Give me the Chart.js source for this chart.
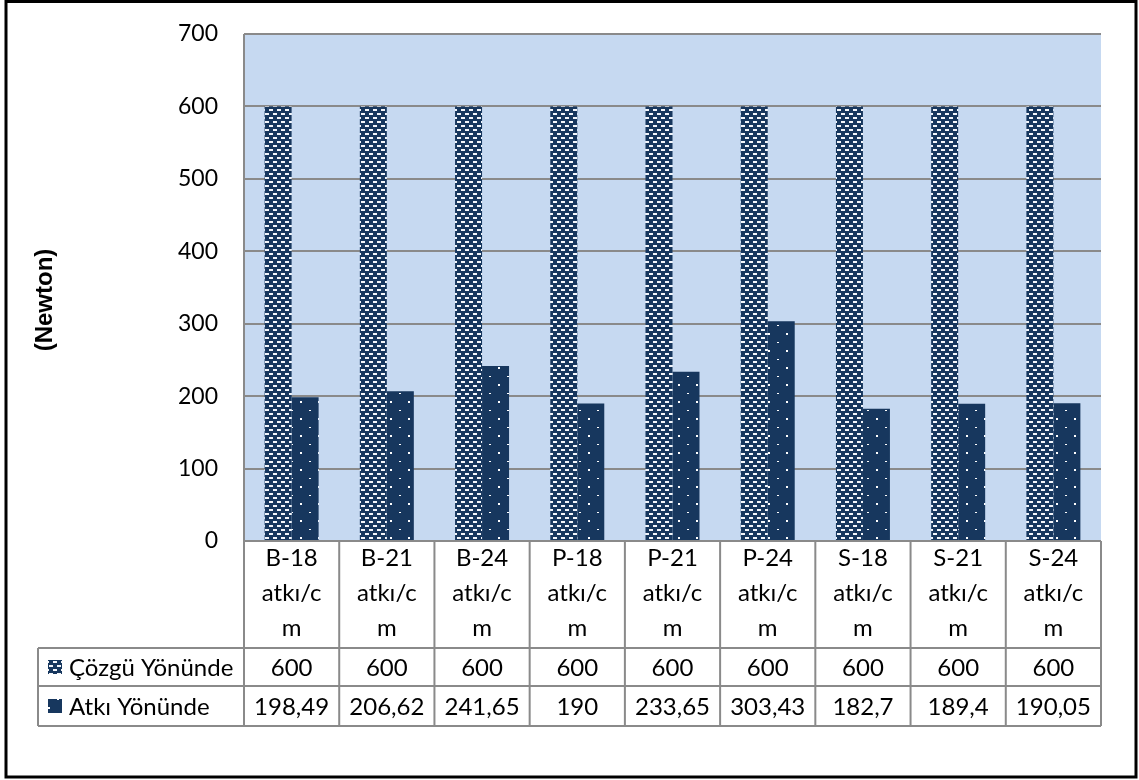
<!DOCTYPE html>
<html>
<head>
<meta charset="utf-8">
<script src="https://cdn.jsdelivr.net/npm/chart.js@4/dist/chart.umd.min.js"></script>
<style>
    html, body { margin: 0; padding: 0; background: #fff; }
    #wrap { width: 1139px; height: 780px; }
</style>
</head>
<body>
<div id="wrap"><canvas id="chart" width="1139" height="780"></canvas></div>
<script>
// データ
const categories = [
    ['B-18', 'atkı/c', 'm'],
    ['B-21', 'atkı/c', 'm'],
    ['B-24', 'atkı/c', 'm'],
    ['P-18', 'atkı/c', 'm'],
    ['P-21', 'atkı/c', 'm'],
    ['P-24', 'atkı/c', 'm'],
    ['S-18', 'atkı/c', 'm'],
    ['S-21', 'atkı/c', 'm'],
    ['S-24', 'atkı/c', 'm'],
];
const seriesNames = ['Çözgü Yönünde', 'Atkı Yönünde'];
const cozgu = [600, 600, 600, 600, 600, 600, 600, 600, 600];
const atki = [198.49, 206.62, 241.65, 190, 233.65, 303.43, 182.7, 189.4, 190.05];
const yTicks = [0, 100, 200, 300, 400, 500, 600, 700];
const yTitle = '(Newton)';

// カラー・パターン
const navy = '#17375E';
const gridColor = '#8A8A8A';
const plotBg = '#C6D9F1';
const txtFont = 'Lato, "Open Sans", sans-serif';

function brickPattern() {
    const c = document.createElement('canvas');
    c.width = 8; c.height = 8;
    const g = c.getContext('2d');
    g.fillStyle = navy;
    g.fillRect(0, 0, 8, 8);
    g.fillStyle = '#F4F6FA';
    g.fillRect(1, 1, 4, 2);
    g.fillRect(5, 5, 3, 2);
    g.fillRect(0, 5, 1, 2);
    return g.createPattern(c, 'repeat');
}
function dotPattern() {
    const c = document.createElement('canvas');
    c.width = 18; c.height = 17;
    const g = c.getContext('2d');
    g.fillStyle = navy;
    g.fillRect(0, 0, 18, 17);
    g.fillStyle = '#FFFFFF';
    g.fillRect(3, 2, 2, 1);
    g.fillRect(12, 10, 2, 2);
    return g.createPattern(c, 'repeat');
}
const ctx = document.getElementById('chart').getContext('2d');
const fills = [brickPattern(), dotPattern()];

const fmt = v => String(v).replace('.', ',');

// 背景・表・枠
const tablePlugin = {
    id: 'tablePlugin',
    beforeDraw(chart) {
        const c = chart.ctx, a = chart.chartArea;
        c.save();
        c.fillStyle = '#fff';
        c.fillRect(0, 0, chart.width, chart.height);
        c.fillStyle = plotBg;
        c.fillRect(a.left, a.top, a.right - a.left, a.bottom - a.top);
        c.restore();
    },
    afterDraw(chart) {
        const c = chart.ctx, a = chart.chartArea, xs = chart.scales.x;
        const n = categories.length;
        const w = (a.right - a.left) / n;
        const tableLeft = 38;
        const rowY = [a.bottom, 648, 686, 726];
        c.save();
        c.strokeStyle = gridColor;
        c.lineWidth = 2;
        c.beginPath();
        // 縦線
        c.moveTo(a.left, a.top); c.lineTo(a.left, rowY[3]);
        for (let i = 1; i <= n; i++) {
            const x = a.left + i * w;
            c.moveTo(x, rowY[0]); c.lineTo(x, rowY[3]);
        }
        c.moveTo(tableLeft, rowY[1]); c.lineTo(tableLeft, rowY[3]);
        // 横線
        c.moveTo(a.left, rowY[0]); c.lineTo(a.right, rowY[0]);
        for (let r = 1; r < 4; r++) {
            c.moveTo(tableLeft, rowY[r]); c.lineTo(a.right, rowY[r]);
        }
        c.stroke();

        c.fillStyle = '#000';
        c.font = '24px ' + txtFont;
        c.textAlign = 'center';
        c.textBaseline = 'middle';
        for (let i = 0; i < n; i++) {
            const cx = xs.getPixelForValue(i);
            categories[i].forEach((line, k) => c.fillText(line, cx, 558 + k * 35));
            c.fillText(fmt(cozgu[i]), cx, (rowY[1] + rowY[2]) / 2 + 1);
            c.fillText(fmt(atki[i]), cx, (rowY[2] + rowY[3]) / 2 + 1);
        }
        // 凡例
        c.textAlign = 'left';
        [cozgu, atki].forEach((s, k) => {
            const cy = (rowY[k + 1] + rowY[k + 2]) / 2;
            c.fillStyle = fills[k];
            c.fillRect(48, cy - 7, 14, 14);
            c.fillStyle = '#000';
            c.fillText(seriesNames[k], 69, cy + 1);
        });
        // 軸タイトル
        c.save();
        c.translate(45, 300);
        c.rotate(-Math.PI / 2);
        c.textAlign = 'center';
        c.font = 'bold 24px "Liberation Sans", Arial, sans-serif';
        c.fillText(yTitle, 0, 0);
        c.restore();
        // 外枠
        c.strokeStyle = '#000';
        c.lineWidth = 3;
        c.strokeRect(6, 1.5, 1130, 775.5);
        c.restore();
    },
};

// グラフ描画
new Chart(ctx, {
    type: 'bar',
    data: {
        labels: categories,
        datasets: [
            { label: seriesNames[0], data: cozgu, backgroundColor: fills[0], borderWidth: 0 },
            { label: seriesNames[1], data: atki, backgroundColor: fills[1], borderWidth: 0 },
        ],
    },
    options: {
        responsive: false,
        animation: false,
        layout: { padding: { top: 34, right: 38, left: 0, bottom: 0 } },
        datasets: { bar: { categoryPercentage: 0.567, barPercentage: 1.0 } },
        plugins: {
            legend: { display: false },
            tooltip: { enabled: false },
        },
        scales: {
            x: {
                grid: { display: false },
                border: { display: false },
                ticks: { display: false },
                afterFit(scale) { scale.height = 239; },
            },
            y: {
                min: 0,
                max: 700,
                afterBuildTicks(scale) { scale.ticks = yTicks.map(v => ({ value: v })); },
                afterFit(scale) {
                    scale.width = 244;
                    scale.paddingTop = 0;
                    scale.paddingBottom = 0;
                },
                grid: { color: gridColor, lineWidth: 2, drawTicks: false },
                border: { display: false },
                ticks: {
                    padding: 26,
                    color: '#000',
                    font: { family: txtFont, size: 23 },
                },
            },
        },
    },
    plugins: [tablePlugin],
});
</script>
</body>
</html>
